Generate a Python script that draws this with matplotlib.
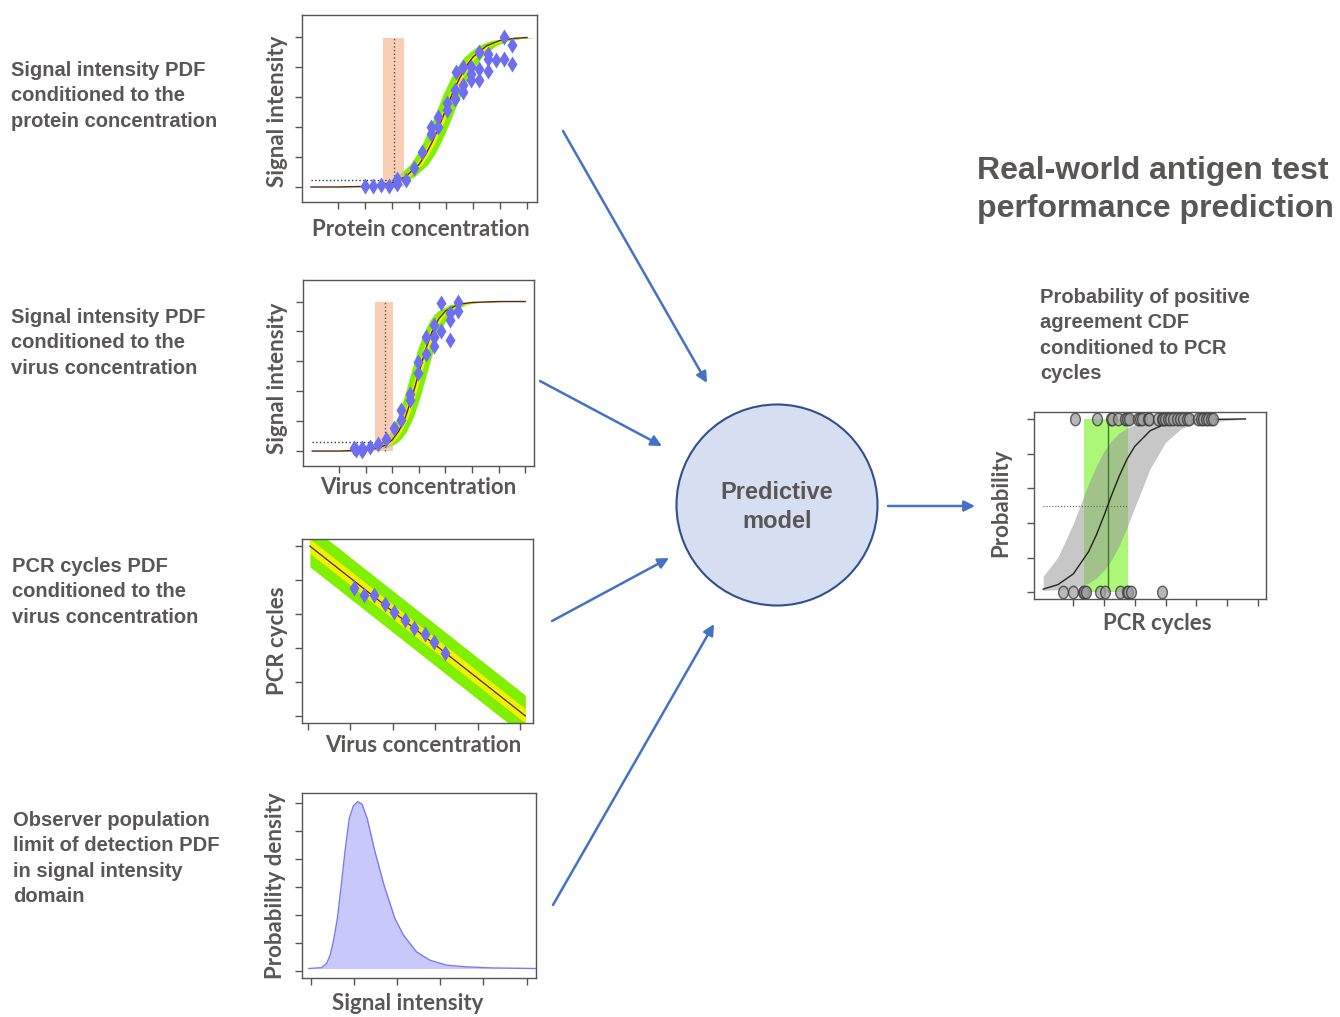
""" Diagram of the inputs to the real-world antigen test performance model. """

import matplotlib
matplotlib.use("Agg")
import matplotlib.pyplot as plt
from matplotlib.patches import Ellipse, FancyArrowPatch, Rectangle
from matplotlib.path import Path
from matplotlib.transforms import Affine2D
import numpy as np

W, H = 1340, 1017
TEXT = '#595656'
AXLABEL = dict(family='Lato', weight='bold', size=16, color=TEXT)
NOTE = dict(family='Liberation Sans', weight='bold', size=14.5, color=TEXT)

# panel 1 - signal intensity vs protein concentration
prot_x = [0, 1, 2, 2.5, 3, 3.5, 4, 4.25, 4.5, 4.75, 5, 5.25, 5.5, 5.75,
          6, 6.5, 7, 7.5, 8]
prot_fit = [0.0, 0.0, 0.02, 0.06, 0.14, 0.34, 0.75, 1.09, 1.52, 2.03, 2.59,
            3.14, 3.62, 4.02, 4.33, 4.70, 4.88, 4.95, 4.98]
prot_pts_x = [1.99, 2.30, 2.61, 2.90, 3.19, 3.19, 3.52, 3.81, 4.12, 4.43,
              4.43, 4.72, 4.72, 5.03, 5.03, 5.34, 5.34, 5.36, 5.62, 5.62,
              5.62, 5.92, 5.92, 5.93, 6.24, 6.24, 6.24, 6.55, 6.55, 6.55,
              6.85, 7.16, 7.16, 7.46, 7.46]
prot_pts_y = [0.03, 0.03, 0.06, 0.03, 0.11, 0.28, 0.24, 0.64, 1.17, 1.78,
              2.00, 2.33, 2.00, 2.80, 2.56, 3.22, 2.94, 3.83, 4.00, 3.39,
              3.17, 4.00, 3.78, 3.58, 4.50, 3.94, 3.58, 4.44, 4.28, 3.86,
              4.22, 5.00, 4.28, 4.72, 4.11]
prot_lod = [2.67, 3.45]
prot_lod_mid = 3.08
prot_cut = 0.22

# panel 2 - signal intensity vs virus concentration
vir_x = [0, 1, 2, 2.5, 2.75, 3, 3.25, 3.5, 3.75, 4, 4.25, 4.5, 4.75, 5,
         5.5, 6, 7, 8]
vir_fit = [0.0, 0.0, 0.03, 0.11, 0.20, 0.37, 0.67, 1.14, 1.81, 2.60, 3.38,
           3.99, 4.42, 4.68, 4.91, 4.97, 5.0, 5.0]
vir_pts_x = [1.58, 1.66, 1.85, 1.85, 2.16, 2.45, 2.76, 3.07, 3.35, 3.35,
             3.67, 3.67, 3.97, 3.97, 4.27, 4.27, 4.57, 4.57, 4.57, 4.85,
             4.85, 5.17, 5.17, 5.17, 5.48, 5.48]
vir_pts_y = [0.09, 0.03, 0.09, 0.01, 0.15, 0.23, 0.39, 0.78, 1.37, 1.04,
             1.90, 1.71, 2.99, 2.60, 3.83, 3.24, 4.22, 3.83, 3.52, 4.94,
             4.00, 4.61, 4.39, 3.72, 5.00, 4.67]
vir_lod = [2.36, 3.04]
vir_lod_mid = 2.74
vir_cut = 0.31

# panel 3 - PCR cycles vs virus concentration
pcr_x = [0.055, 5.12]
pcr_fit = [5.0, 0.0]
pcr_pts_x = [1.10, 1.33, 1.57, 1.81, 2.04, 2.28, 2.51, 2.75, 2.98, 3.22]
pcr_pts_y = [3.77, 3.56, 3.56, 3.29, 3.07, 2.82, 2.58, 2.41, 2.19, 1.84]

# panel 4 - observer limit of detection density
lod_x = [-0.04, 0.25, 0.37, 0.45, 0.525, 0.62, 0.71, 0.795, 0.895, 0.99,
         1.09, 1.19, 1.31, 1.49, 1.70, 1.95, 2.15, 2.45, 2.76, 3.15, 3.6,
         4.23, 5.22]
lod_y = [0.08, 0.11, 0.26, 0.55, 1.04, 1.88, 3.07, 4.27, 5.46, 5.91, 6.06,
         5.97, 5.46, 4.27, 3.07, 1.88, 1.28, 0.68, 0.38, 0.20, 0.14, 0.10,
         0.08]
lod_base = 0.08

# panel 5 - probability of positive agreement vs PCR cycles
ppa_x = [0.02, 0.5, 1, 1.5, 1.75, 2, 2.25, 2.5, 2.75, 3, 3.5, 4, 4.5, 5, 6.6]
ppa_fit = [0.018, 0.044, 0.106, 0.235, 0.331, 0.443, 0.562, 0.673, 0.769,
           0.842, 0.932, 0.972, 0.989, 0.996, 1.0]
ppa_hi = [0.093, 0.203, 0.397, 0.629, 0.730, 0.815, 0.876, 0.919, 0.948,
          0.967, 0.987, 0.995, 0.998, 0.999, 1.0]
ppa_lo = [0.010, 0.015, 0.025, 0.053, 0.082, 0.126, 0.188, 0.271, 0.374,
          0.490, 0.714, 0.865, 0.943, 0.977, 0.999]
pos_x = [1.05, 1.78, 2.23, 2.27, 2.44, 2.68, 2.74, 2.81, 3.11, 3.17, 3.25,
         3.42, 3.46, 3.77, 3.87, 3.93, 3.98, 4.07, 4.15, 4.25, 4.36, 4.47,
         4.58, 4.69, 4.76, 5.07, 5.15, 5.23, 5.31, 5.39, 5.48, 5.56]
neg_x = [0.67, 1.00, 1.33, 1.36, 1.40, 1.87, 2.03, 2.52, 2.74, 2.79, 2.87,
         3.90]
ppa_win = [1.36, 2.79]
ppa_mid = 2.12

notes = [
    (["Signal intensity PDF", "conditioned to the", "protein concentration"],
     11, 76),
    (["Signal intensity PDF", "conditioned to the", "virus concentration"],
     11, 323),
    (["PCR cycles PDF", "conditioned to the", "virus concentration"],
     12, 572),
    (["Observer population", "limit of detection PDF",
      "in signal intensity", "domain"], 13, 826),
    (["Probability of positive", "agreement CDF", "conditioned to PCR",
      "cycles"], 1040, 303),
]

arrows = [((563, 131), (707, 383)), ((540, 381), (662, 446)),
          ((552, 621), (669, 558)), ((553, 905), (714, 624)),
          ((888, 506), (975, 506))]


def fx(px):
    return px / W


def fy(py):
    return 1 - py / H


def panel(fig, box, xlim, ylim, xticks, yticks):
    """ Add an R style axes with its box given in pixels (l, t, r, b). """
    l, t, r, b = box
    ax = fig.add_axes([fx(l), fy(b), (r - l) / W, (b - t) / H])
    ax.set_xlim(xlim)
    ax.set_ylim(ylim)
    ax.set_xticks(xticks)
    ax.set_yticks(yticks)
    ax.tick_params(labelbottom=False, labelleft=False, direction='out',
                   length=5, width=1, color='#555555')
    for s in ax.spines.values():
        s.set_color('#555555')
        s.set_linewidth(1)
    return ax


def labels(fig, xlab, xpos, ylab, ypos):
    fig.text(fx(xpos[0]), fy(xpos[1]), xlab, ha='center', va='center',
             **AXLABEL)
    fig.text(fx(ypos[0]), fy(ypos[1]), ylab, ha='center', va='center',
             rotation=90, **AXLABEL)


def sigmoid_panel(ax, xs, fit, px, py, lod, mid, cut, green, yellow):
    xs = np.array(xs)
    ax.fill_betweenx(fit, xs - green, xs + green, color='#80f000', lw=0,
                     zorder=1)
    ax.fill_betweenx(fit, xs - yellow, xs + yellow, color='#f5f000', lw=0,
                     zorder=1.5)
    ax.add_patch(Rectangle((lod[0], 0), lod[1] - lod[0], max(fit),
                           color='#f7b58c', alpha=0.65, lw=0, zorder=2))
    ax.plot(xs, fit, color='#5a2418', lw=1, zorder=3)
    ax.plot([xs[0], mid], [cut, cut], color='#333333', lw=1, ls=':',
            zorder=3)
    ax.plot([mid, mid], [0, max(fit)], color='#555555', lw=1, ls=':',
            zorder=3)
    ax.plot(px, py, 'd', color='#6e6ef2', ms=8, mec='none', zorder=4)


# tall oval marker for the binary outcomes
oval = Path.unit_circle().transformed(Affine2D().scale(0.78, 1.0))

fig = plt.figure(figsize=(W / 100, H / 100), dpi=100)

# panel 1
ax = panel(fig, (302, 15, 537, 202), (-0.33, 8.37), (-0.5, 5.73),
           range(1, 9), range(0, 6))
sigmoid_panel(ax, prot_x, prot_fit, prot_pts_x, prot_pts_y, prot_lod,
              prot_lod_mid, prot_cut, 0.33, 0.11)
labels(fig, "Protein concentration", (421, 229), "Signal intensity",
       (278, 111))

# panel 2
ax = panel(fig, (303, 280, 534, 466), (-0.35, 8.33), (-0.5, 5.72),
           range(1, 9), range(0, 6))
sigmoid_panel(ax, vir_x, vir_fit, vir_pts_x, vir_pts_y, vir_lod,
              vir_lod_mid, vir_cut, 0.30, 0.1)
labels(fig, "Virus concentration", (418, 487), "Signal intensity",
       (278, 378))

# panel 3
ax = panel(fig, (302, 539, 533, 723), (-0.13, 5.3), (-0.21, 5.21),
           range(0, 6), range(0, 6))
pcr_y = np.array(pcr_fit)
ax.fill_between(pcr_x, pcr_y - 0.61, pcr_y + 0.61, color='#80f000', lw=0)
ax.fill_between(pcr_x, pcr_y - 0.21, pcr_y + 0.21, color='#f5f000', lw=0)
ax.plot(pcr_x, pcr_fit, color='#333333', lw=0.9)
ax.plot(pcr_pts_x, pcr_pts_y, 'd', color='#6e6ef2', ms=8, mec='none')
labels(fig, "Virus concentration", (423, 746), "PCR cycles", (277, 641))

# panel 4
ax = panel(fig, (302, 793, 536, 978), (-0.2, 5.22), (-0.26, 6.37),
           range(0, 6), range(0, 7))
ax.fill_between(lod_x, lod_y, lod_base, color='#c8c8fa', lw=0)
ax.plot(lod_x, lod_y, color='#7b7bf5', lw=1)
labels(fig, "Signal intensity", (408, 1004), "Probability density",
       (275, 886))

# panel 5
ax = panel(fig, (1034, 412, 1266, 599), (-0.28, 7.27), (-0.039, 1.04),
           range(1, 8), np.arange(0, 1.01, 0.2))
ax.add_patch(Rectangle((ppa_win[0], 0), ppa_win[1] - ppa_win[0], 1,
                       color='#8cf542', alpha=0.72, lw=0))
ax.fill_between(ppa_x, ppa_lo, ppa_hi, color='#999999', alpha=0.55, lw=0)
ax.plot([ppa_mid, ppa_mid], [0, 1], color='#3c7a28', lw=1)
ax.plot([ppa_x[0], ppa_win[1]], [0.5, 0.5], color='#666666', lw=0.8,
        ls=':')
ax.plot(ppa_x, ppa_fit, color='#222222', lw=1)
ax.plot(pos_x, np.ones(len(pos_x)), ls='none', marker=oval, mfc='#a0a0a0',
        mec='#333333', ms=9, alpha=0.75, clip_on=False)
ax.plot(neg_x, np.zeros(len(neg_x)), ls='none', marker=oval, mfc='#a0a0a0',
        mec='#333333', ms=9, alpha=0.75, clip_on=False)
labels(fig, "PCR cycles", (1157, 624), "Probability", (1001, 503))

# model circle
fig.add_artist(Ellipse((fx(777), fy(505)), 201 / W, 201 / H,
                       transform=fig.transFigure, facecolor='#d5dff1',
                       edgecolor='#2f4f8f', lw=1.5))
fig.text(fx(777), fy(499), "Predictive", ha='center', va='baseline',
         family='Liberation Sans', weight='bold', size=17, color=TEXT)
fig.text(fx(777), fy(528), "model", ha='center', va='baseline',
         family='Liberation Sans', weight='bold', size=17, color=TEXT)

# arrows
for a, b in arrows:
    fig.add_artist(FancyArrowPatch((fx(a[0]), fy(a[1])),
                                   (fx(b[0]), fy(b[1])),
                                   transform=fig.transFigure,
                                   arrowstyle='-|>', mutation_scale=16,
                                   color='#4472c4', lw=1.8, shrinkA=0,
                                   shrinkB=0))

# descriptions
for lines, x, y in notes:
    for i, line in enumerate(lines):
        fig.text(fx(x), fy(y + 25.3 * i), line, ha='left', va='baseline',
                 **NOTE)

fig.text(fx(977), fy(179), "Real-world antigen test", ha='left',
         va='baseline', family='Liberation Sans', weight='bold', size=23,
         color=TEXT)
fig.text(fx(977), fy(217), "performance prediction", ha='left',
         va='baseline', family='Liberation Sans', weight='bold', size=23,
         color=TEXT)

fig.savefig("out.png", dpi=100)
